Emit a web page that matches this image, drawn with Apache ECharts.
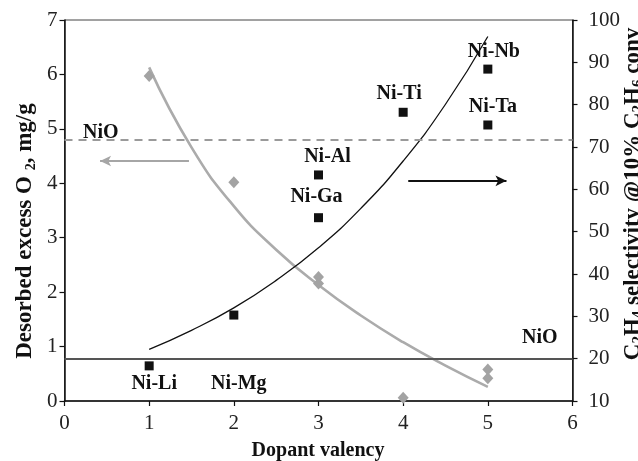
<!DOCTYPE html>
<html>
<head>
<meta charset="utf-8">
<script src="https://cdn.jsdelivr.net/npm/echarts@6/dist/echarts.min.js"></script>
<style>
html,body{margin:0;padding:0;background:#fff;}
#chart{width:638px;height:461px;}
</style>
</head>
<body>
<div id="chart"></div>
<script>
// ---- data ----
const xTicks = [0, 1, 2, 3, 4, 5, 6];
const leftTicks = [0, 1, 2, 3, 4, 5, 6, 7];
const rightTicks = [10, 20, 30, 40, 50, 60, 70, 80, 90, 100];

// desorbed excess O2 (left axis), grey diamonds
const o2Valency = [1, 2, 3, 3, 4, 5, 5];
const o2Values  = [5.97, 4.02, 2.28, 2.16, 0.06, 0.58, 0.42];

// C2H4 selectivity (right axis), black squares
const dopants        = ['Ni-Li', 'Ni-Mg', 'Ni-Ga', 'Ni-Al', 'Ni-Ti', 'Ni-Nb', 'Ni-Ta'];
const dopantValency  = [1, 2, 3, 3, 4, 5, 5];
const selectivity    = [18.3, 30.3, 53.3, 63.4, 78.2, 88.4, 75.2];

// trend curves, values
const trendX    = [1, 1.5, 2, 2.5, 3, 3.5, 4, 4.5, 5];
const o2TrendY  = [6.13, 4.66, 3.58, 2.78, 2.13, 1.57, 1.08, 0.65, 0.26];
const selTrendY = [22.2, 26.7, 32.0, 38.5, 46.2, 55.5, 66.7, 80.1, 96.1];

// NiO reference levels
const nioO2 = 4.8;          // left axis
const nioSelectivity = 20;  // right axis

// arrows (pointing to their axes)
const o2ArrowY = 4.41, o2ArrowFrom = 1.47, o2ArrowTo = 0.42;
const selArrowY = 62, selArrowFrom = 4.06, selArrowTo = 5.22;

// label offsets (style only)
const labelOffsets = [[5, 18], [5, 69], [-2, -21], [9, -18], [-4, -18], [6, -17], [5, -18]];

const FONT = 'Liberation Serif';
const chart = echarts.init(document.getElementById('chart'), null, {renderer: 'canvas'});

const squareData = dopants.map((n, i) => ({
  value: [dopantValency[i], selectivity[i]],
  name: n,
  label: {show: true, formatter: n, position: 'inside', offset: labelOffsets[i],
          fontFamily: FONT, fontWeight: 'bold', fontSize: 20, color: '#111'}
}));

const option = {
  animation: false,
  backgroundColor: '#fff',
  grid: {left: 64.5, right: 65.5, top: 20, bottom: 60, show: true, borderColor: '#444', borderWidth: 1},
  xAxis: {
    type: 'value', min: xTicks[0], max: xTicks[xTicks.length - 1], interval: 1,
    axisLine: {show: true, onZero: false, lineStyle: {color: '#111', width: 1.5}},
    axisTick: {show: true, length: 5, lineStyle: {color: '#111', width: 1.2}},
    axisLabel: {fontFamily: FONT, fontSize: 21, color: '#222', margin: 12},
    splitLine: {show: false}
  },
  yAxis: [{
    type: 'value', min: leftTicks[0], max: leftTicks[leftTicks.length - 1], interval: 1, position: 'left',
    axisLine: {show: true, lineStyle: {color: '#111', width: 1.5}},
    axisTick: {show: true, length: 5, lineStyle: {color: '#111', width: 1.2}},
    axisLabel: {fontFamily: FONT, fontSize: 21, color: '#222', margin: 7},
    splitLine: {show: false}
  }, {
    type: 'value', min: rightTicks[0], max: rightTicks[rightTicks.length - 1], interval: 10, position: 'right',
    axisLine: {show: true, lineStyle: {color: '#111', width: 1.5}},
    axisTick: {show: true, length: 5, lineStyle: {color: '#111', width: 1.2}},
    axisLabel: {fontFamily: FONT, fontSize: 21, color: '#222', margin: 16},
    splitLine: {show: false}
  }],
  series: [
    {
      type: 'line', yAxisIndex: 0, data: trendX.map((x, i) => [x, o2TrendY[i]]),
      smooth: true, showSymbol: false, lineStyle: {color: '#ababab', width: 2.6}, z: 3,
      markLine: {
        silent: true, animation: false, symbol: ['none', 'none'], label: {show: false},
        data: [
          [{coord: [xTicks[0], nioO2], lineStyle: {color: '#9a9a9a', width: 1.8, type: [8, 6]}},
           {coord: [xTicks[xTicks.length - 1], nioO2]}],
          [{coord: [o2ArrowFrom, o2ArrowY], symbol: 'none', lineStyle: {color: '#a6a6a6', width: 2, type: 'solid'}},
           {coord: [o2ArrowTo, o2ArrowY], symbol: 'arrow', symbolSize: [8, 11]}]
        ]
      }
    },
    {
      type: 'line', yAxisIndex: 1, data: trendX.map((x, i) => [x, selTrendY[i]]),
      smooth: true, showSymbol: false, lineStyle: {color: '#111', width: 1.3}, z: 3,
      markLine: {
        silent: true, animation: false, symbol: ['none', 'none'], label: {show: false},
        data: [
          [{coord: [xTicks[0], nioSelectivity], lineStyle: {color: '#555', width: 1.8, type: 'solid'}},
           {coord: [xTicks[xTicks.length - 1], nioSelectivity]}],
          [{coord: [selArrowFrom, selArrowY], symbol: 'none', lineStyle: {color: '#111', width: 2, type: 'solid'}},
           {coord: [selArrowTo, selArrowY], symbol: 'arrow', symbolSize: [8, 11]}]
        ]
      }
    },
    {
      type: 'scatter', yAxisIndex: 0, symbol: 'diamond', symbolSize: [11, 12],
      itemStyle: {color: '#a3a3a3', opacity: 1}, z: 4,
      data: o2Valency.map((x, i) => [x, o2Values[i]])
    },
    {
      type: 'scatter', yAxisIndex: 1, symbol: 'rect', symbolSize: 9,
      itemStyle: {color: '#111', opacity: 1}, z: 5,
      data: squareData
    }
  ],
  graphic: [
    {type: 'text', left: 83, top: 123, style: {text: 'NiO', font: 'bold 20px "Liberation Serif"', fill: '#111'}},
    {type: 'text', left: 522, top: 328, style: {text: 'NiO', font: 'bold 20px "Liberation Serif"', fill: '#111'}},
    {type: 'text', x: 318, y: 451, style: {text: 'Dopant valency', font: 'bold 20px "Liberation Serif"', fill: '#111', align: 'center', verticalAlign: 'middle'}},
    {type: 'text', x: 25, y: 231, rotation: Math.PI / 2,
     style: {text: 'Desorbed excess O {s|2}, mg/g', font: 'bold 23px "Liberation Serif"', fill: '#111', align: 'center', verticalAlign: 'middle',
             rich: {s: {fontSize: 14, fontWeight: 'bold', fontFamily: FONT, fill: '#111', padding: [12, 0, 0, 0]}}}},
    {type: 'text', x: 633, y: 194, rotation: Math.PI / 2,
     style: {text: 'C{s|2}H{s|4} selectivity @10% C{s|2}H{s|6} conv', font: 'bold 23px "Liberation Serif"', fill: '#111', align: 'center', verticalAlign: 'middle',
             rich: {s: {fontSize: 15, fontWeight: 'bold', fontFamily: FONT, fill: '#111', padding: [10, 0, 0, 0]}}}}
  ]
};
chart.setOption(option);
</script>
</body>
</html>
